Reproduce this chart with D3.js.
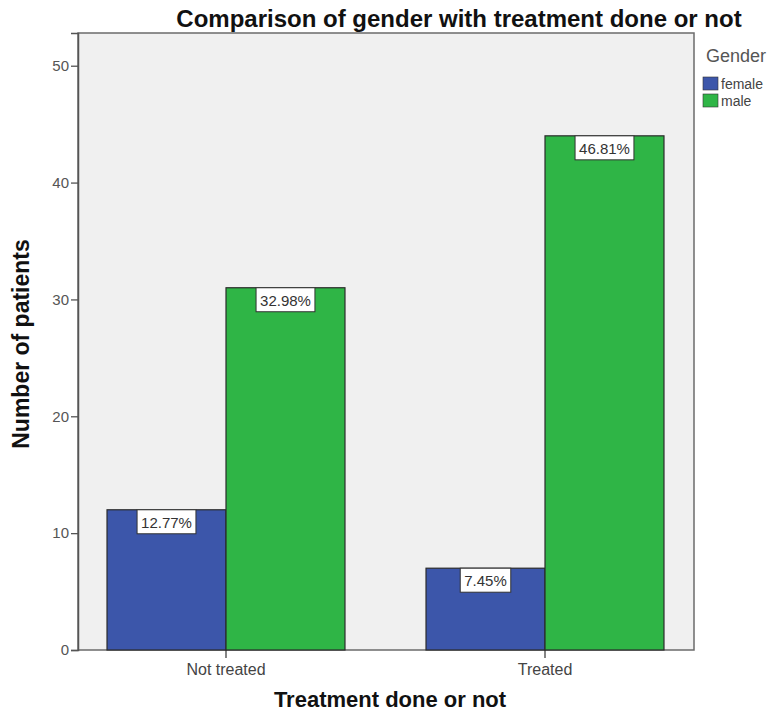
<!DOCTYPE html>
<html><head><meta charset="utf-8">
<script src="https://cdn.jsdelivr.net/npm/d3@7/dist/d3.min.js"></script>
<style>body{margin:0;background:#fff}svg{display:block}</style>
</head><body><svg id="c" width="771" height="715"></svg>
<script>
const categories = ["Not treated", "Treated"];
const genders = ["female", "male"];
const femaleCounts = [12, 7];
const maleCounts = [31, 44];
const percentLabels = [["12.77%", "32.98%"], ["7.45%", "46.81%"]];
const yTicks = [0, 10, 20, 30, 40, 50];
const colors = ["#3c56aa", "#2fb546"];

const FONT = "Liberation Sans, Arial, sans-serif";
const svg = d3.select("#c");
const plot = {l: 78, r: 694, t: 33, b: 650};
const y = d3.scaleLinear().domain([0, 52.8]).range([plot.b, plot.t]);
const x0 = d3.scaleBand().domain(categories).range([66.5, 704.5]).paddingInner(0.254).paddingOuter(0.127);
const x1 = d3.scaleBand().domain(genders).range([0, x0.bandwidth()]);

svg.append("rect").attr("x", plot.l).attr("y", plot.t).attr("width", plot.r - plot.l).attr("height", plot.b - plot.t)
  .attr("fill", "#f0f0f0").attr("stroke", "#6b6b6b").attr("stroke-width", 1.5);

const data = categories.map((c, i) => ({c, vals: [femaleCounts[i], maleCounts[i]], labs: percentLabels[i]}));
const g = svg.selectAll(".grp").data(data).enter().append("g").attr("transform", d => `translate(${x0(d.c)},0)`);
g.selectAll("rect").data(d => d.vals.map((v, j) => ({v, j, lab: d.labs[j]}))).enter().append("rect")
  .attr("x", d => x1(genders[d.j])).attr("width", x1.bandwidth())
  .attr("y", d => y(d.v)).attr("height", d => y(0) - y(d.v))
  .attr("fill", d => colors[d.j]).attr("stroke", "#2b2b2b").attr("stroke-width", 1.2);

const lg = g.selectAll(".lab").data(d => d.vals.map((v, j) => ({v, j, lab: d.labs[j]}))).enter().append("g");
lg.each(function(d) {
  const gg = d3.select(this);
  const cx = x1(genders[d.j]) + x1.bandwidth() / 2;
  const t = gg.append("text").attr("x", cx).attr("y", y(d.v) + 18).attr("text-anchor", "middle")
    .attr("font-family", FONT).attr("font-size", 15).attr("fill", "#333").text(d.lab);
  const bb = t.node().getBBox();
  gg.insert("rect", "text").attr("x", bb.x - 4).attr("y", y(d.v)).attr("width", bb.width + 8).attr("height", 24)
    .attr("fill", "#fff").attr("stroke", "#333").attr("stroke-width", 1);
});

// y axis
const yAxis = d3.axisLeft(y).tickValues(yTicks).tickSize(7).tickPadding(2).tickFormat(d3.format("d"));
const ya = svg.append("g").attr("transform", `translate(${plot.l},0)`).call(yAxis);
ya.select(".domain").attr("stroke", "#555").attr("stroke-width", 1.5);
ya.selectAll("line").attr("stroke", "#555").attr("stroke-width", 1.3);
ya.selectAll("text").attr("font-family", FONT).attr("font-size", 15).attr("fill", "#555");

// x axis
const xAxis = d3.axisBottom(x0).tickSize(8).tickSizeOuter(0);
const xa = svg.append("g").attr("transform", `translate(0,${plot.b})`).call(xAxis);
xa.select(".domain").remove();
xa.selectAll("line").attr("stroke", "#333").attr("stroke-width", 1.2);
xa.selectAll("text").attr("font-family", FONT).attr("font-size", 16).attr("fill", "#444").attr("y", 25).attr("dy", null);

svg.append("text").attr("x", 459).attr("y", 27).attr("text-anchor", "middle")
  .attr("font-family", FONT).attr("font-weight", "bold").attr("font-size", 24).attr("fill", "#111")
  .text("Comparison of gender with treatment done or not");
svg.append("text").attr("x", 390).attr("y", 707).attr("text-anchor", "middle")
  .attr("font-family", FONT).attr("font-weight", "bold").attr("font-size", 22).attr("fill", "#111")
  .text("Treatment done or not");
svg.append("text").attr("transform", "translate(29,344) rotate(-90)").attr("text-anchor", "middle")
  .attr("font-family", FONT).attr("font-weight", "bold").attr("font-size", 23).attr("fill", "#111")
  .text("Number of patients");

// legend
svg.append("text").attr("x", 706).attr("y", 62).attr("font-family", FONT).attr("font-size", 18).attr("fill", "#555").text("Gender");
genders.forEach((gname, i) => {
  svg.append("rect").attr("x", 703).attr("y", 77 + i * 17).attr("width", 15).attr("height", 13).attr("fill", colors[i]).attr("stroke", "#333").attr("stroke-width", 0.6);
  svg.append("text").attr("x", 721).attr("y", 89 + i * 17).attr("font-family", FONT).attr("font-size", 14).attr("fill", "#444").text(gname);
});
</script></body></html>
